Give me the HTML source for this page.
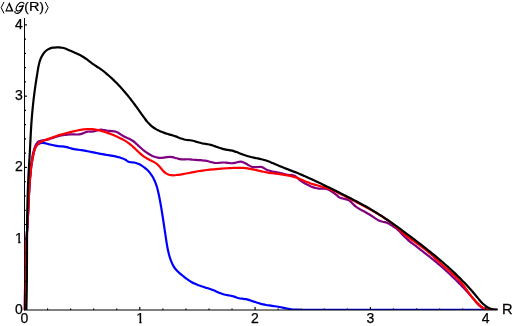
<!DOCTYPE html>
<html><head><meta charset="utf-8">
<title>Chart</title>
<style>
html,body{margin:0;padding:0;background:#fff;}
body{width:512px;height:326px;overflow:hidden;font-family:"Liberation Sans",sans-serif;}
svg{display:block;will-change:transform;}
text{font-family:"Liberation Sans",sans-serif;font-size:14px;fill:#000;stroke:#000;stroke-width:0.25px;}
.c{fill:none;stroke-width:2.2;stroke-linecap:butt;stroke-linejoin:round;}
</style></head><body>
<svg width="512" height="326" viewBox="0 0 512 326">
<rect width="512" height="326" fill="#fff"/>
<g>
<text x="24.40" y="323.00" text-anchor="middle">0</text>
<clipPath id="c1x"><path d="M130 310H150V320.9H141.6V326H139.3V320.9H130Z"/></clipPath>
<text x="140.10" y="323.00" text-anchor="middle" clip-path="url(#c1x)">1</text>
<text x="255.00" y="323.00" text-anchor="middle">2</text>
<text x="370.30" y="323.00" text-anchor="middle">3</text>
<text x="485.60" y="323.00" text-anchor="middle">4</text>
<text x="22.90" y="314.00" text-anchor="end">0</text>
<clipPath id="c1y"><path d="M8 228H24V240.9H20.5V246H18.2V240.9H8Z"/></clipPath>
<text x="22.90" y="242.72" text-anchor="end" clip-path="url(#c1y)">1</text>
<text x="22.90" y="171.44" text-anchor="end">2</text>
<text x="22.90" y="100.16" text-anchor="end">3</text>
<text x="22.90" y="28.88" text-anchor="end">4</text>
<text transform="translate(502.1 314.2) scale(1.05 1)">R</text>
</g>
<g id="title">
<text x="24.3" y="11.2" style="font-size:13.4px">(</text>
<text transform="translate(28.9 11.2) scale(1.08 0.975)" style="font-size:13.4px">R</text>
<text x="39.6" y="11.2" style="font-size:13.4px">)</text>
<path d="M9.35 2.0 L5.2 11.45 L13.5 11.45 Z M8.95 4.9 L11.35 10.35 L6.85 10.35 Z" fill="#000" fill-rule="evenodd" stroke="none"/>
<path d="M4.0 2.0 L1.15 7.6 L4.0 13.4" fill="none" stroke="#000" stroke-width="1"/>
<path d="M45.3 2.0 L48.15 7.6 L45.3 13.4" fill="none" stroke="#000" stroke-width="1"/>
<g fill="none" stroke="#000" stroke-width="1.15" stroke-linecap="round" stroke-linejoin="round">
<path d="M24.0 3.7 C23.5 2.5 22.3 2.1 21.3 2.3 C19 2.7 16.3 5.8 16.1 8.6 C16 10.4 17 11.1 18.4 11.0 C20.6 10.8 22.3 8.4 22.9 6.0"/>
<path d="M19.2 6.6 L23.5 5.9"/>
<path d="M22.9 6.0 C22.3 9.5 21 12.2 18.6 13.1 C17 13.7 15.2 13.3 14.85 12.2 C14.8 11.9 14.9 11.6 15.1 11.4"/>
</g>

</g>
<clipPath id="cp"><rect x="0" y="0" width="512" height="310"/></clipPath>
<g clip-path="url(#cp)">
<path class="c" stroke="#0000ff" d="M24.88 311.00C24.88 310.50 24.90 309.00 24.91 307.99C24.91 306.99 24.92 305.99 24.93 304.99C24.94 303.99 24.95 302.99 24.96 301.98C24.96 300.98 24.97 299.98 24.98 298.98C24.99 297.98 25.00 296.97 25.00 295.97C25.01 294.97 25.02 293.97 25.03 292.97C25.04 291.96 25.05 290.96 25.06 289.96C25.07 288.96 25.08 287.95 25.09 286.95C25.10 285.95 25.11 284.95 25.12 283.94C25.13 282.94 25.15 281.94 25.16 280.94C25.17 279.94 25.19 278.93 25.20 277.93C25.22 276.93 25.24 275.93 25.25 274.92C25.27 273.92 25.29 272.92 25.31 271.92C25.33 270.91 25.35 269.91 25.37 268.91C25.40 267.91 25.42 266.91 25.45 265.90C25.47 264.90 25.50 263.90 25.53 262.90C25.56 261.90 25.59 260.90 25.62 259.89C25.65 258.89 25.69 257.89 25.72 256.89C25.76 255.89 25.80 254.89 25.84 253.89C25.88 252.88 25.92 251.88 25.96 250.88C26.01 249.88 26.05 248.88 26.10 247.88C26.15 246.88 26.20 245.88 26.25 244.88C26.31 243.88 26.36 242.88 26.42 241.88C26.47 240.88 26.53 239.88 26.59 238.88C26.64 237.88 26.70 236.88 26.76 235.88C26.82 234.88 26.88 233.88 26.94 232.88C27.00 231.88 27.06 230.88 27.12 229.88C27.19 228.88 27.25 227.88 27.31 226.88C27.37 225.88 27.43 224.88 27.49 223.88C27.54 222.88 27.60 221.88 27.66 220.88C27.72 219.88 27.77 218.88 27.83 217.88C27.88 216.88 27.94 215.88 27.99 214.88C28.04 213.87 28.09 212.87 28.14 211.87C28.19 210.87 28.24 209.87 28.28 208.86C28.33 207.86 28.38 206.86 28.42 205.86C28.47 204.86 28.52 203.85 28.56 202.85C28.61 201.85 28.65 200.85 28.70 199.85C28.75 198.84 28.80 197.84 28.85 196.84C28.90 195.84 28.95 194.84 29.00 193.84C29.05 192.83 29.11 191.83 29.16 190.83C29.22 189.83 29.28 188.83 29.34 187.83C29.41 186.83 29.47 185.83 29.54 184.83C29.61 183.84 29.68 182.84 29.75 181.84C29.83 180.84 29.91 179.84 29.99 178.85C30.08 177.85 30.16 176.85 30.26 175.86C30.35 174.86 30.45 173.87 30.55 172.88C30.66 171.88 30.76 170.89 30.88 169.90C31.00 168.90 31.12 167.91 31.25 166.92C31.38 165.93 31.52 164.93 31.67 163.94C31.82 162.95 31.97 161.96 32.14 160.97C32.31 159.98 32.48 158.99 32.67 158.00C32.86 157.01 33.05 156.02 33.27 155.03C33.48 154.04 33.68 153.03 33.94 152.06C34.20 151.08 34.48 150.05 34.80 149.17C35.12 148.28 35.38 147.53 35.86 146.73C36.34 145.93 36.95 144.98 37.70 144.37C38.45 143.76 39.42 143.30 40.36 143.06C41.30 142.83 42.35 142.87 43.34 142.95C44.33 143.02 45.31 143.28 46.30 143.51C47.28 143.74 48.26 144.06 49.23 144.32C50.21 144.57 51.17 144.83 52.14 145.05C53.12 145.28 54.08 145.48 55.06 145.66C56.04 145.83 57.01 145.99 58.00 146.10C58.99 146.22 60.00 146.28 61.00 146.36C62.00 146.44 63.02 146.46 64.02 146.58C65.01 146.71 66.00 146.88 66.97 147.12C67.94 147.36 68.87 147.74 69.83 148.04C70.78 148.33 71.73 148.66 72.70 148.89C73.67 149.11 74.67 149.25 75.66 149.39C76.65 149.53 77.65 149.62 78.65 149.74C79.64 149.87 80.63 150.01 81.62 150.16C82.61 150.31 83.60 150.48 84.58 150.66C85.57 150.83 86.55 151.02 87.53 151.21C88.51 151.40 89.49 151.60 90.47 151.80C91.45 152.00 92.43 152.21 93.41 152.41C94.38 152.62 95.36 152.83 96.34 153.03C97.32 153.23 98.30 153.43 99.28 153.63C100.26 153.82 101.24 154.01 102.23 154.19C103.21 154.37 104.20 154.54 105.19 154.70C106.18 154.87 107.17 155.02 108.16 155.18C109.15 155.35 110.14 155.50 111.12 155.67C112.11 155.84 113.10 156.01 114.08 156.20C115.06 156.39 116.04 156.59 117.01 156.81C117.99 157.03 118.96 157.27 119.92 157.54C120.88 157.82 121.86 158.08 122.79 158.44C123.72 158.80 124.64 159.20 125.50 159.70C126.35 160.19 127.06 160.98 127.93 161.40C128.80 161.82 129.74 162.03 130.71 162.22C131.68 162.40 132.75 162.35 133.75 162.51C134.75 162.67 135.74 162.87 136.69 163.18C137.64 163.49 138.56 163.91 139.46 164.35C140.36 164.80 141.23 165.31 142.08 165.86C142.93 166.40 143.76 166.98 144.55 167.60C145.35 168.22 146.12 168.88 146.85 169.56C147.59 170.25 148.30 170.97 148.96 171.72C149.63 172.47 150.26 173.25 150.85 174.05C151.44 174.85 151.98 175.68 152.49 176.53C153.00 177.38 153.47 178.25 153.91 179.14C154.35 180.03 154.75 180.94 155.13 181.86C155.51 182.78 155.85 183.72 156.18 184.67C156.50 185.62 156.80 186.58 157.08 187.55C157.36 188.52 157.62 189.49 157.86 190.47C158.11 191.45 158.33 192.44 158.55 193.43C158.77 194.41 158.97 195.40 159.18 196.39C159.38 197.37 159.57 198.36 159.76 199.34C159.94 200.32 160.13 201.30 160.30 202.28C160.48 203.26 160.65 204.24 160.82 205.22C160.99 206.21 161.16 207.19 161.32 208.17C161.48 209.15 161.64 210.13 161.80 211.12C161.96 212.10 162.12 213.09 162.27 214.07C162.43 215.06 162.58 216.05 162.74 217.03C162.89 218.02 163.04 219.01 163.19 220.00C163.34 220.99 163.49 221.98 163.64 222.97C163.79 223.96 163.94 224.95 164.09 225.94C164.24 226.94 164.38 227.93 164.53 228.92C164.68 229.91 164.83 230.90 164.97 231.89C165.12 232.88 165.27 233.88 165.42 234.87C165.57 235.86 165.71 236.85 165.86 237.84C166.01 238.83 166.16 239.82 166.31 240.81C166.47 241.80 166.62 242.78 166.78 243.77C166.95 244.76 167.11 245.74 167.29 246.72C167.47 247.71 167.66 248.69 167.87 249.66C168.07 250.64 168.28 251.61 168.52 252.59C168.75 253.56 169.00 254.52 169.27 255.49C169.54 256.45 169.83 257.41 170.14 258.36C170.46 259.32 170.79 260.27 171.16 261.20C171.54 262.14 171.93 263.07 172.37 263.97C172.81 264.86 173.28 265.75 173.80 266.60C174.32 267.44 174.88 268.27 175.50 269.05C176.11 269.83 176.79 270.56 177.50 271.27C178.21 271.98 178.98 272.64 179.74 273.30C180.51 273.96 181.31 274.59 182.09 275.23C182.87 275.86 183.65 276.50 184.43 277.12C185.22 277.74 185.99 278.36 186.79 278.95C187.59 279.54 188.40 280.12 189.23 280.65C190.06 281.19 190.92 281.70 191.79 282.18C192.66 282.67 193.56 283.11 194.46 283.54C195.37 283.97 196.30 284.37 197.23 284.75C198.16 285.13 199.11 285.48 200.05 285.82C201.00 286.16 201.95 286.48 202.91 286.79C203.86 287.10 204.82 287.39 205.77 287.68C206.72 287.98 207.68 288.26 208.63 288.57C209.57 288.87 210.52 289.18 211.46 289.52C212.39 289.85 213.32 290.21 214.25 290.59C215.17 290.97 216.09 291.39 217.01 291.79C217.93 292.18 218.85 292.59 219.78 292.96C220.71 293.32 221.65 293.67 222.61 293.97C223.56 294.28 224.52 294.54 225.49 294.77C226.47 295.00 227.46 295.15 228.45 295.33C229.43 295.51 230.43 295.64 231.41 295.86C232.38 296.08 233.35 296.33 234.30 296.64C235.25 296.95 236.17 297.39 237.12 297.70C238.07 298.01 239.02 298.33 240.00 298.51C240.98 298.68 242.01 298.65 243.01 298.76C244.00 298.87 245.00 298.97 245.98 299.16C246.95 299.35 247.90 299.64 248.86 299.92C249.81 300.21 250.75 300.55 251.70 300.86C252.65 301.18 253.60 301.51 254.55 301.82C255.50 302.13 256.45 302.45 257.41 302.74C258.37 303.04 259.33 303.33 260.29 303.60C261.25 303.87 262.22 304.12 263.19 304.35C264.17 304.58 265.14 304.78 266.13 304.96C267.11 305.14 268.10 305.29 269.09 305.44C270.08 305.59 271.07 305.71 272.06 305.85C273.05 305.99 274.05 306.11 275.04 306.25C276.03 306.40 277.02 306.55 278.00 306.72C278.99 306.90 279.97 307.09 280.95 307.29C281.93 307.49 282.91 307.70 283.89 307.91C284.87 308.11 285.85 308.32 286.83 308.51C287.81 308.70 288.79 308.89 289.77 309.05C290.76 309.21 291.74 309.36 292.74 309.47C293.73 309.57 294.72 309.66 295.73 309.69C296.73 309.73 294.71 309.67 298.75 309.68C302.80 309.69 286.88 309.74 320.00 309.75C353.12 309.76 467.92 309.75 497.50 309.75"/>
<path class="c" stroke="#800080" d="M24.88 311.00C24.88 310.50 24.90 309.00 24.91 307.99C24.91 306.99 24.92 305.99 24.93 304.99C24.94 303.99 24.95 302.99 24.96 301.98C24.96 300.98 24.97 299.98 24.98 298.98C24.99 297.98 25.00 296.97 25.00 295.97C25.01 294.97 25.02 293.97 25.03 292.97C25.04 291.96 25.05 290.96 25.06 289.96C25.07 288.96 25.08 287.95 25.09 286.95C25.10 285.95 25.11 284.95 25.12 283.94C25.13 282.94 25.15 281.94 25.16 280.94C25.17 279.94 25.19 278.93 25.20 277.93C25.22 276.93 25.24 275.93 25.25 274.92C25.27 273.92 25.29 272.92 25.31 271.92C25.33 270.91 25.35 269.91 25.37 268.91C25.40 267.91 25.42 266.91 25.45 265.90C25.47 264.90 25.50 263.90 25.53 262.90C25.56 261.90 25.59 260.90 25.62 259.89C25.65 258.89 25.69 257.89 25.72 256.89C25.76 255.89 25.80 254.89 25.84 253.89C25.88 252.88 25.92 251.88 25.96 250.88C26.01 249.88 26.05 248.88 26.10 247.88C26.15 246.88 26.20 245.88 26.25 244.88C26.31 243.88 26.36 242.88 26.42 241.88C26.47 240.88 26.53 239.88 26.59 238.88C26.64 237.88 26.70 236.88 26.76 235.88C26.82 234.88 26.88 233.88 26.94 232.88C27.00 231.88 27.06 230.88 27.12 229.88C27.19 228.88 27.25 227.88 27.31 226.88C27.37 225.88 27.43 224.88 27.49 223.88C27.54 222.88 27.60 221.88 27.66 220.88C27.72 219.88 27.77 218.88 27.83 217.88C27.88 216.88 27.94 215.88 27.99 214.88C28.04 213.87 28.09 212.87 28.14 211.87C28.19 210.87 28.24 209.87 28.28 208.86C28.33 207.86 28.38 206.86 28.42 205.86C28.47 204.86 28.52 203.85 28.56 202.85C28.61 201.85 28.65 200.85 28.70 199.85C28.75 198.84 28.80 197.84 28.85 196.84C28.90 195.84 28.95 194.84 29.00 193.84C29.05 192.83 29.11 191.83 29.16 190.83C29.22 189.83 29.28 188.83 29.34 187.83C29.41 186.83 29.47 185.83 29.54 184.83C29.61 183.84 29.68 182.84 29.75 181.84C29.83 180.84 29.91 179.84 29.99 178.85C30.08 177.85 30.16 176.85 30.26 175.86C30.35 174.86 30.45 173.87 30.55 172.88C30.66 171.88 30.83 170.84 30.88 169.90C30.93 168.95 30.79 168.13 30.85 167.18C30.91 166.23 31.09 165.20 31.22 164.20C31.35 163.21 31.49 162.22 31.63 161.23C31.78 160.24 31.93 159.25 32.09 158.26C32.26 157.27 32.43 156.28 32.63 155.30C32.82 154.32 33.03 153.34 33.28 152.37C33.52 151.40 33.79 150.44 34.09 149.49C34.40 148.53 34.73 147.59 35.11 146.66C35.49 145.73 35.86 144.75 36.37 143.91C36.88 143.07 37.40 142.17 38.19 141.62C38.98 141.07 40.12 140.87 41.11 140.62C42.10 140.36 43.14 140.28 44.12 140.10C45.10 139.93 46.04 139.79 47.00 139.58C47.96 139.36 48.90 139.10 49.85 138.82C50.80 138.54 51.76 138.21 52.71 137.91C53.67 137.61 54.63 137.30 55.59 137.01C56.56 136.73 57.52 136.45 58.50 136.20C59.47 135.95 60.44 135.71 61.42 135.50C62.40 135.29 63.39 135.10 64.37 134.94C65.36 134.78 66.35 134.65 67.34 134.55C68.33 134.45 69.33 134.39 70.33 134.36C71.33 134.33 72.33 134.36 73.34 134.38C74.34 134.41 75.35 134.51 76.34 134.50C77.33 134.50 78.33 134.50 79.30 134.35C80.26 134.20 81.21 133.92 82.15 133.59C83.10 133.27 84.01 132.76 84.96 132.43C85.91 132.09 86.85 131.72 87.83 131.57C88.81 131.43 89.85 131.57 90.85 131.55C91.85 131.52 92.86 131.59 93.83 131.42C94.81 131.25 95.71 130.78 96.68 130.51C97.65 130.24 98.67 129.92 99.66 129.80C100.65 129.68 101.66 129.71 102.64 129.79C103.62 129.88 104.58 130.13 105.56 130.31C106.54 130.48 107.52 130.70 108.52 130.82C109.51 130.94 110.54 130.95 111.54 131.04C112.54 131.13 113.56 131.15 114.51 131.36C115.47 131.57 116.39 131.89 117.27 132.30C118.16 132.71 118.99 133.30 119.84 133.84C120.69 134.38 121.52 135.02 122.39 135.54C123.25 136.06 124.15 136.53 125.06 136.97C125.96 137.41 126.91 137.75 127.82 138.16C128.73 138.57 129.65 138.94 130.51 139.42C131.38 139.89 132.21 140.42 133.02 141.00C133.82 141.57 134.59 142.22 135.35 142.87C136.11 143.52 136.84 144.22 137.58 144.91C138.32 145.60 139.05 146.32 139.79 147.01C140.53 147.69 141.27 148.38 142.03 149.03C142.79 149.69 143.56 150.33 144.35 150.94C145.14 151.54 145.94 152.13 146.76 152.69C147.59 153.24 148.42 153.77 149.29 154.26C150.15 154.75 151.04 155.22 151.95 155.64C152.86 156.06 153.80 156.46 154.76 156.78C155.71 157.11 156.70 157.40 157.68 157.58C158.66 157.76 159.65 157.84 160.64 157.84C161.63 157.85 162.62 157.73 163.62 157.61C164.62 157.50 165.62 157.29 166.63 157.17C167.63 157.05 168.65 156.88 169.65 156.88C170.65 156.88 171.64 156.99 172.62 157.17C173.59 157.35 174.56 157.68 175.53 157.95C176.49 158.22 177.45 158.58 178.42 158.81C179.39 159.04 180.36 159.25 181.34 159.34C182.33 159.43 183.32 159.37 184.32 159.35C185.31 159.34 186.32 159.24 187.32 159.25C188.32 159.26 189.31 159.34 190.31 159.42C191.31 159.51 192.31 159.64 193.31 159.73C194.30 159.82 195.30 159.90 196.30 159.97C197.30 160.03 198.29 160.08 199.29 160.14C200.28 160.21 201.28 160.26 202.27 160.35C203.26 160.45 204.25 160.55 205.24 160.70C206.23 160.85 207.21 161.04 208.20 161.27C209.18 161.50 210.15 161.83 211.13 162.08C212.11 162.33 213.09 162.64 214.07 162.79C215.05 162.94 216.04 162.98 217.03 162.98C218.02 162.97 219.01 162.84 220.01 162.76C221.01 162.68 222.01 162.53 223.01 162.50C224.01 162.47 225.01 162.49 226.01 162.57C227.01 162.65 228.01 162.85 229.00 162.97C230.00 163.08 230.99 163.25 231.98 163.25C232.97 163.25 233.95 163.16 234.92 162.95C235.90 162.75 236.86 162.22 237.84 162.00C238.82 161.79 239.81 161.56 240.78 161.64C241.75 161.72 242.75 162.12 243.67 162.48C244.60 162.84 245.45 163.31 246.33 163.79C247.21 164.27 248.07 164.87 248.95 165.35C249.84 165.83 250.73 166.36 251.66 166.67C252.60 166.97 253.57 167.13 254.55 167.20C255.54 167.27 256.57 167.15 257.58 167.11C258.59 167.07 259.64 166.85 260.61 166.94C261.59 167.04 262.52 167.28 263.41 167.69C264.30 168.09 265.08 168.90 265.97 169.38C266.85 169.86 267.77 170.24 268.71 170.57C269.65 170.89 270.62 171.11 271.59 171.34C272.56 171.57 273.55 171.74 274.54 171.93C275.52 172.12 276.51 172.28 277.50 172.47C278.48 172.66 279.47 172.84 280.44 173.06C281.42 173.28 282.39 173.53 283.35 173.77C284.32 174.02 285.27 174.33 286.24 174.54C287.21 174.74 288.19 174.93 289.19 175.01C290.20 175.09 291.28 174.87 292.26 175.01C293.23 175.15 294.18 175.40 295.03 175.87C295.89 176.34 296.62 177.17 297.38 177.83C298.14 178.49 298.85 179.19 299.62 179.82C300.39 180.45 301.18 181.04 302.00 181.60C302.82 182.16 303.68 182.67 304.55 183.18C305.41 183.68 306.31 184.14 307.20 184.60C308.10 185.07 309.00 185.52 309.91 185.94C310.82 186.36 311.74 186.78 312.67 187.13C313.60 187.48 314.54 187.81 315.50 188.05C316.46 188.29 317.44 188.47 318.43 188.57C319.43 188.67 320.46 188.64 321.47 188.66C322.48 188.68 323.52 188.61 324.51 188.70C325.50 188.80 326.48 188.92 327.42 189.22C328.35 189.52 329.23 190.01 330.10 190.50C330.97 190.98 331.81 191.59 332.65 192.15C333.48 192.71 334.32 193.25 335.11 193.86C335.91 194.48 336.63 195.21 337.41 195.84C338.19 196.46 338.93 197.16 339.81 197.61C340.69 198.06 341.69 198.27 342.67 198.52C343.65 198.77 344.73 198.84 345.69 199.11C346.66 199.38 347.61 199.68 348.46 200.15C349.32 200.62 350.08 201.26 350.84 201.90C351.60 202.55 352.29 203.32 353.02 204.02C353.75 204.72 354.46 205.47 355.23 206.11C355.99 206.75 356.80 207.31 357.63 207.85C358.46 208.39 359.33 208.85 360.20 209.34C361.06 209.83 361.94 210.30 362.82 210.78C363.70 211.26 364.59 211.73 365.47 212.22C366.35 212.70 367.23 213.19 368.09 213.69C368.95 214.20 369.81 214.72 370.65 215.25C371.50 215.79 372.32 216.34 373.15 216.90C373.98 217.47 374.79 218.08 375.63 218.63C376.47 219.18 377.29 219.76 378.18 220.20C379.07 220.64 380.00 220.99 380.95 221.28C381.90 221.58 382.91 221.74 383.88 221.98C384.86 222.22 385.86 222.40 386.79 222.74C387.73 223.07 388.62 223.50 389.48 224.00C390.35 224.49 391.15 225.13 391.99 225.70C392.82 226.26 393.67 226.83 394.50 227.39C395.33 227.95 396.19 228.46 396.98 229.06C397.77 229.66 398.52 230.30 399.24 230.99C399.95 231.68 400.60 232.45 401.27 233.20C401.94 233.94 402.59 234.72 403.27 235.45C403.96 236.18 404.67 236.89 405.39 237.58C406.12 238.28 406.86 238.94 407.62 239.60C408.37 240.25 409.15 240.89 409.93 241.52C410.70 242.15 411.49 242.77 412.28 243.38C413.07 244.00 413.86 244.61 414.66 245.22C415.45 245.83 416.24 246.44 417.04 247.04C417.83 247.65 418.63 248.26 419.42 248.86C420.21 249.47 421.01 250.07 421.80 250.68C422.59 251.29 423.39 251.90 424.18 252.51C424.97 253.12 425.76 253.73 426.55 254.34C427.33 254.96 428.12 255.58 428.90 256.20C429.69 256.82 430.47 257.44 431.25 258.07C432.02 258.70 432.80 259.33 433.57 259.97C434.35 260.60 435.12 261.24 435.88 261.88C436.65 262.52 437.42 263.17 438.18 263.82C438.94 264.47 439.70 265.12 440.46 265.77C441.22 266.43 441.97 267.09 442.72 267.75C443.47 268.41 444.22 269.08 444.97 269.74C445.71 270.41 446.45 271.08 447.19 271.76C447.93 272.43 448.67 273.11 449.40 273.79C450.13 274.47 450.86 275.16 451.59 275.85C452.32 276.53 453.04 277.22 453.76 277.92C454.48 278.61 455.19 279.31 455.91 280.01C456.62 280.71 457.33 281.41 458.03 282.12C458.74 282.82 459.44 283.53 460.14 284.24C460.84 284.95 461.53 285.67 462.23 286.39C462.92 287.10 463.60 287.82 464.29 288.55C464.97 289.27 465.65 290.00 466.33 290.73C467.00 291.47 467.67 292.21 468.34 292.95C469.00 293.70 469.66 294.45 470.31 295.22C470.97 295.98 471.62 296.75 472.26 297.54C472.90 298.32 473.53 299.12 474.17 299.91C474.81 300.70 475.44 301.51 476.10 302.28C476.75 303.04 477.41 303.81 478.12 304.51C478.82 305.21 479.54 305.89 480.32 306.49C481.09 307.08 481.91 307.63 482.78 308.08C483.65 308.54 484.58 308.91 485.53 309.22C486.48 309.52 487.49 309.75 488.49 309.91C489.49 310.08 490.52 310.17 491.54 310.21C492.55 310.25 493.58 310.22 494.58 310.14C495.57 310.06 497.01 309.81 497.50 309.74"/>
<path class="c" stroke="#ff0000" d="M24.88 311.00C24.88 310.50 24.90 309.00 24.91 307.99C24.91 306.99 24.92 305.99 24.93 304.99C24.94 303.99 24.95 302.99 24.96 301.98C24.96 300.98 24.97 299.98 24.98 298.98C24.99 297.98 25.00 296.97 25.00 295.97C25.01 294.97 25.02 293.97 25.03 292.97C25.04 291.96 25.05 290.96 25.06 289.96C25.07 288.96 25.08 287.95 25.09 286.95C25.10 285.95 25.11 284.95 25.12 283.94C25.13 282.94 25.15 281.94 25.16 280.94C25.17 279.94 25.19 278.93 25.20 277.93C25.22 276.93 25.24 275.93 25.25 274.92C25.27 273.92 25.29 272.92 25.31 271.92C25.33 270.91 25.35 269.91 25.37 268.91C25.40 267.91 25.42 266.91 25.45 265.90C25.47 264.90 25.50 263.90 25.53 262.90C25.56 261.90 25.59 260.90 25.62 259.89C25.65 258.89 25.69 257.89 25.72 256.89C25.76 255.89 25.80 254.89 25.84 253.89C25.88 252.88 25.92 251.88 25.96 250.88C26.01 249.88 26.05 248.88 26.10 247.88C26.15 246.88 26.20 245.88 26.25 244.88C26.31 243.88 26.36 242.88 26.42 241.88C26.47 240.88 26.53 239.88 26.59 238.88C26.64 237.88 26.70 236.88 26.76 235.88C26.82 234.88 26.88 233.88 26.94 232.88C27.00 231.88 27.06 230.88 27.12 229.88C27.19 228.88 27.25 227.88 27.31 226.88C27.37 225.88 27.43 224.88 27.49 223.88C27.54 222.88 27.60 221.88 27.66 220.88C27.72 219.88 27.77 218.88 27.83 217.88C27.88 216.88 27.94 215.88 27.99 214.88C28.04 213.87 28.09 212.87 28.14 211.87C28.19 210.87 28.24 209.87 28.28 208.86C28.33 207.86 28.38 206.86 28.42 205.86C28.47 204.86 28.52 203.85 28.56 202.85C28.61 201.85 28.65 200.85 28.70 199.85C28.75 198.84 28.80 197.84 28.85 196.84C28.90 195.84 28.95 194.84 29.00 193.84C29.05 192.83 29.11 191.83 29.16 190.83C29.22 189.83 29.28 188.83 29.34 187.83C29.41 186.83 29.47 185.83 29.54 184.83C29.61 183.84 29.68 182.84 29.75 181.84C29.83 180.84 29.91 179.84 29.99 178.85C30.08 177.85 30.16 176.85 30.26 175.86C30.35 174.86 30.45 173.87 30.55 172.88C30.66 171.88 30.76 170.89 30.88 169.90C31.00 168.90 31.12 167.91 31.25 166.92C31.38 165.93 31.52 164.93 31.67 163.94C31.82 162.95 31.97 161.96 32.14 160.97C32.31 159.98 32.48 158.99 32.67 158.00C32.86 157.01 33.05 156.02 33.27 155.03C33.48 154.04 33.68 153.03 33.94 152.06C34.20 151.08 34.45 150.09 34.80 149.17C35.16 148.24 35.55 147.32 36.06 146.49C36.57 145.66 37.19 144.86 37.89 144.17C38.59 143.47 39.41 142.86 40.26 142.32C41.10 141.79 42.04 141.36 42.96 140.95C43.88 140.55 44.84 140.24 45.79 139.89C46.74 139.54 47.69 139.22 48.64 138.87C49.58 138.53 50.52 138.16 51.46 137.81C52.40 137.45 53.34 137.10 54.28 136.77C55.23 136.43 56.17 136.11 57.12 135.80C58.07 135.50 59.02 135.20 59.97 134.92C60.93 134.63 61.89 134.36 62.85 134.09C63.81 133.82 64.77 133.56 65.73 133.31C66.70 133.05 67.67 132.81 68.64 132.57C69.61 132.32 70.59 132.08 71.57 131.85C72.55 131.61 73.53 131.37 74.51 131.15C75.49 130.92 76.48 130.69 77.47 130.49C78.46 130.28 79.45 130.08 80.44 129.91C81.43 129.74 82.43 129.58 83.42 129.45C84.41 129.32 85.41 129.22 86.40 129.15C87.40 129.08 88.39 129.04 89.39 129.05C90.38 129.05 91.38 129.10 92.37 129.18C93.36 129.27 94.35 129.39 95.34 129.55C96.33 129.71 97.31 129.90 98.29 130.12C99.27 130.33 100.25 130.58 101.22 130.84C102.19 131.11 103.16 131.39 104.12 131.69C105.07 131.99 106.03 132.30 106.97 132.63C107.92 132.96 108.86 133.30 109.80 133.65C110.73 134.01 111.66 134.38 112.59 134.75C113.52 135.13 114.44 135.52 115.36 135.92C116.29 136.31 117.21 136.72 118.12 137.14C119.03 137.56 119.94 137.99 120.84 138.44C121.73 138.90 122.62 139.36 123.49 139.85C124.37 140.34 125.23 140.85 126.07 141.39C126.91 141.93 127.73 142.49 128.53 143.09C129.34 143.68 130.12 144.31 130.88 144.95C131.65 145.59 132.40 146.26 133.14 146.93C133.89 147.60 134.62 148.30 135.35 148.99C136.08 149.68 136.81 150.39 137.54 151.08C138.28 151.77 139.01 152.46 139.76 153.13C140.51 153.80 141.26 154.46 142.04 155.09C142.82 155.72 143.61 156.33 144.42 156.90C145.24 157.47 146.09 158.01 146.95 158.51C147.82 159.01 148.73 159.45 149.64 159.90C150.54 160.35 151.47 160.75 152.36 161.20C153.26 161.66 154.17 162.09 155.01 162.61C155.85 163.13 156.65 163.68 157.40 164.32C158.14 164.96 158.81 165.70 159.48 166.45C160.15 167.19 160.76 168.02 161.41 168.81C162.07 169.59 162.69 170.43 163.41 171.14C164.12 171.86 164.88 172.54 165.71 173.10C166.53 173.66 167.42 174.13 168.34 174.48C169.26 174.83 170.24 175.08 171.21 175.20C172.19 175.33 173.20 175.29 174.20 175.24C175.20 175.20 176.21 175.06 177.21 174.94C178.21 174.83 179.21 174.69 180.20 174.54C181.20 174.39 182.19 174.23 183.17 174.06C184.16 173.90 185.15 173.72 186.14 173.53C187.12 173.35 188.11 173.16 189.09 172.97C190.07 172.78 191.06 172.59 192.04 172.40C193.02 172.20 194.01 172.01 194.99 171.83C195.97 171.64 196.96 171.46 197.94 171.29C198.93 171.12 199.92 170.96 200.91 170.80C201.89 170.65 202.88 170.50 203.88 170.37C204.87 170.23 205.86 170.10 206.85 169.98C207.85 169.85 208.84 169.74 209.84 169.63C210.83 169.52 211.83 169.42 212.83 169.32C213.83 169.22 214.83 169.13 215.82 169.05C216.82 168.96 217.82 168.88 218.82 168.80C219.83 168.73 220.83 168.66 221.83 168.59C222.83 168.52 223.83 168.46 224.83 168.39C225.84 168.33 226.84 168.28 227.84 168.22C228.85 168.16 229.85 168.11 230.85 168.06C231.85 168.02 232.86 167.97 233.86 167.94C234.86 167.90 235.86 167.87 236.86 167.86C237.87 167.85 238.87 167.85 239.86 167.87C240.86 167.88 241.86 167.91 242.86 167.97C243.85 168.02 244.85 168.09 245.84 168.19C246.83 168.29 247.82 168.41 248.81 168.56C249.79 168.71 250.78 168.90 251.76 169.09C252.75 169.29 253.73 169.53 254.71 169.76C255.69 169.98 256.67 170.24 257.65 170.47C258.62 170.70 259.60 170.94 260.58 171.16C261.56 171.38 262.55 171.58 263.53 171.78C264.51 171.97 265.50 172.15 266.48 172.32C267.47 172.49 268.45 172.64 269.44 172.79C270.43 172.95 271.42 173.08 272.41 173.22C273.40 173.36 274.40 173.48 275.39 173.61C276.39 173.74 277.38 173.86 278.37 173.99C279.37 174.12 280.36 174.25 281.35 174.39C282.35 174.53 283.34 174.68 284.33 174.84C285.32 175.00 286.30 175.16 287.29 175.35C288.27 175.53 289.25 175.73 290.23 175.94C291.21 176.16 292.19 176.38 293.16 176.64C294.12 176.89 295.09 177.16 296.04 177.47C297.00 177.77 297.94 178.11 298.87 178.48C299.80 178.84 300.72 179.26 301.63 179.66C302.55 180.06 303.46 180.48 304.38 180.89C305.30 181.29 306.22 181.69 307.15 182.07C308.07 182.46 309.00 182.83 309.94 183.17C310.88 183.51 311.83 183.83 312.78 184.12C313.74 184.42 314.71 184.66 315.68 184.93C316.65 185.19 317.62 185.43 318.59 185.70C319.56 185.96 320.53 186.22 321.49 186.50C322.46 186.78 323.42 187.07 324.38 187.37C325.33 187.66 326.29 187.97 327.24 188.30C328.19 188.62 329.13 188.95 330.07 189.31C331.01 189.66 331.94 190.03 332.86 190.41C333.78 190.80 334.70 191.20 335.61 191.62C336.52 192.03 337.42 192.46 338.33 192.90C339.23 193.33 340.12 193.78 341.02 194.23C341.91 194.69 342.80 195.15 343.69 195.61C344.58 196.07 345.47 196.54 346.36 197.00C347.25 197.46 348.14 197.92 349.03 198.38C349.92 198.84 350.82 199.30 351.71 199.76C352.60 200.22 353.49 200.67 354.39 201.13C355.28 201.59 356.17 202.04 357.06 202.50C357.96 202.96 358.85 203.42 359.74 203.88C360.63 204.34 361.52 204.80 362.41 205.26C363.29 205.72 364.18 206.19 365.07 206.66C365.95 207.13 366.83 207.60 367.72 208.08C368.60 208.55 369.48 209.03 370.35 209.52C371.23 210.00 372.10 210.49 372.97 210.98C373.84 211.48 374.71 211.98 375.58 212.48C376.44 212.99 377.30 213.50 378.16 214.02C379.02 214.54 379.87 215.07 380.72 215.60C381.57 216.13 382.41 216.67 383.25 217.22C384.09 217.77 384.92 218.33 385.75 218.89C386.58 219.46 387.40 220.03 388.22 220.62C389.03 221.20 389.84 221.79 390.65 222.39C391.45 222.99 392.24 223.60 393.03 224.22C393.82 224.84 394.60 225.47 395.37 226.11C396.14 226.75 396.90 227.41 397.65 228.07C398.41 228.73 399.15 229.40 399.90 230.07C400.64 230.75 401.38 231.43 402.12 232.10C402.87 232.77 403.61 233.44 404.37 234.10C405.13 234.75 405.89 235.40 406.67 236.03C407.45 236.65 408.25 237.26 409.05 237.85C409.85 238.45 410.67 239.02 411.49 239.60C412.31 240.18 413.14 240.74 413.96 241.31C414.79 241.89 415.61 242.46 416.44 243.03C417.26 243.60 418.08 244.18 418.90 244.76C419.72 245.34 420.54 245.92 421.35 246.51C422.16 247.10 422.96 247.69 423.76 248.30C424.56 248.91 425.35 249.52 426.13 250.15C426.91 250.77 427.68 251.41 428.44 252.06C429.20 252.71 429.96 253.37 430.70 254.03C431.45 254.70 432.19 255.38 432.92 256.06C433.66 256.74 434.39 257.43 435.12 258.11C435.85 258.80 436.58 259.49 437.31 260.18C438.04 260.86 438.77 261.55 439.50 262.24C440.24 262.92 440.97 263.60 441.72 264.27C442.46 264.94 443.22 265.61 443.97 266.27C444.73 266.93 445.49 267.58 446.25 268.24C447.01 268.89 447.77 269.54 448.53 270.20C449.29 270.85 450.06 271.51 450.81 272.17C451.56 272.83 452.31 273.49 453.05 274.17C453.79 274.84 454.52 275.52 455.24 276.22C455.96 276.91 456.68 277.61 457.37 278.33C458.06 279.05 458.75 279.79 459.41 280.53C460.08 281.28 460.74 282.04 461.38 282.81C462.02 283.58 462.65 284.36 463.27 285.15C463.89 285.94 464.50 286.73 465.10 287.54C465.70 288.34 466.29 289.15 466.88 289.97C467.46 290.78 468.03 291.61 468.60 292.42C469.18 293.24 469.75 294.06 470.34 294.87C470.93 295.67 471.53 296.47 472.16 297.25C472.79 298.02 473.44 298.78 474.11 299.52C474.79 300.27 475.48 300.99 476.19 301.71C476.90 302.43 477.62 303.14 478.35 303.84C479.08 304.54 479.80 305.27 480.56 305.92C481.32 306.58 482.08 307.25 482.91 307.77C483.74 308.30 484.62 308.75 485.54 309.08C486.46 309.42 487.44 309.65 488.44 309.80C489.43 309.95 490.49 309.98 491.52 309.99C492.55 310.00 493.61 309.91 494.61 309.87C495.60 309.83 497.02 309.76 497.50 309.74"/>
<path class="c" stroke="#000000" d="M26.28 311.00C26.29 310.50 26.33 308.99 26.36 307.99C26.39 306.99 26.42 305.99 26.44 304.98C26.46 303.98 26.49 302.98 26.51 301.98C26.53 300.98 26.55 299.97 26.57 298.97C26.59 297.97 26.61 296.97 26.63 295.96C26.65 294.96 26.67 293.96 26.68 292.95C26.70 291.95 26.71 290.95 26.73 289.95C26.74 288.94 26.75 287.94 26.77 286.94C26.78 285.94 26.79 284.93 26.80 283.93C26.81 282.93 26.82 281.93 26.83 280.92C26.84 279.92 26.85 278.92 26.86 277.91C26.87 276.91 26.87 275.91 26.88 274.91C26.89 273.90 26.89 272.90 26.90 271.90C26.91 270.89 26.91 269.89 26.92 268.89C26.92 267.89 26.93 266.88 26.93 265.88C26.94 264.88 26.94 263.87 26.94 262.87C26.95 261.87 26.95 260.87 26.96 259.86C26.96 258.86 26.96 257.86 26.97 256.85C26.97 255.85 26.97 254.85 26.98 253.85C26.98 252.84 26.98 251.84 26.99 250.84C26.99 249.83 26.99 248.83 27.00 247.83C27.00 246.82 27.00 245.82 27.01 244.82C27.01 243.82 27.01 242.81 27.02 241.81C27.02 240.81 27.03 239.80 27.03 238.80C27.04 237.80 27.04 236.80 27.05 235.79C27.05 234.79 27.06 233.79 27.07 232.78C27.07 231.78 27.08 230.78 27.09 229.78C27.10 228.77 27.10 227.77 27.11 226.77C27.12 225.76 27.13 224.76 27.14 223.76C27.15 222.76 27.16 221.75 27.17 220.75C27.19 219.75 27.20 218.75 27.21 217.74C27.22 216.74 27.24 215.74 27.25 214.74C27.27 213.73 27.28 212.73 27.30 211.73C27.32 210.72 27.34 209.72 27.36 208.72C27.37 207.72 27.39 206.71 27.42 205.71C27.44 204.71 27.46 203.71 27.48 202.70C27.51 201.70 27.53 200.70 27.56 199.70C27.58 198.70 27.61 197.69 27.64 196.69C27.67 195.69 27.70 194.69 27.73 193.68C27.76 192.68 27.79 191.68 27.83 190.68C27.86 189.68 27.90 188.67 27.94 187.67C27.97 186.67 28.01 185.67 28.05 184.67C28.10 183.66 28.14 182.66 28.18 181.66C28.23 180.66 28.27 179.66 28.32 178.65C28.37 177.65 28.42 176.65 28.47 175.65C28.52 174.65 28.57 173.65 28.63 172.64C28.68 171.64 28.74 170.64 28.80 169.64C28.85 168.64 28.91 167.64 28.97 166.64C29.03 165.63 29.09 164.63 29.15 163.63C29.21 162.63 29.27 161.63 29.33 160.63C29.39 159.63 29.45 158.63 29.51 157.62C29.57 156.62 29.63 155.62 29.69 154.62C29.75 153.62 29.80 152.62 29.86 151.62C29.91 150.62 29.97 149.62 30.02 148.61C30.07 147.61 30.12 146.61 30.17 145.61C30.22 144.61 30.27 143.61 30.32 142.61C30.37 141.61 30.42 140.61 30.47 139.61C30.52 138.61 30.56 137.60 30.62 136.60C30.67 135.60 30.72 134.60 30.77 133.60C30.83 132.60 30.88 131.60 30.94 130.60C31.00 129.60 31.06 128.59 31.12 127.59C31.18 126.59 31.25 125.59 31.32 124.59C31.38 123.59 31.45 122.59 31.53 121.59C31.60 120.58 31.68 119.58 31.75 118.58C31.83 117.58 31.91 116.58 32.00 115.58C32.08 114.58 32.17 113.58 32.26 112.58C32.35 111.58 32.44 110.58 32.53 109.58C32.63 108.58 32.73 107.59 32.83 106.59C32.93 105.59 33.03 104.59 33.14 103.60C33.25 102.60 33.36 101.60 33.47 100.61C33.58 99.61 33.70 98.62 33.82 97.62C33.94 96.63 34.06 95.63 34.19 94.64C34.31 93.65 34.44 92.66 34.57 91.66C34.70 90.67 34.84 89.68 34.98 88.69C35.12 87.70 35.26 86.71 35.40 85.72C35.54 84.73 35.69 83.74 35.84 82.75C35.99 81.76 36.14 80.77 36.29 79.78C36.44 78.79 36.60 77.80 36.75 76.81C36.91 75.81 37.07 74.82 37.23 73.83C37.39 72.83 37.55 71.83 37.71 70.84C37.88 69.84 38.04 68.84 38.22 67.84C38.40 66.85 38.59 65.85 38.81 64.87C39.03 63.89 39.26 62.91 39.55 61.96C39.83 61.00 40.13 60.05 40.50 59.12C40.86 58.19 41.26 57.27 41.72 56.39C42.19 55.50 42.71 54.62 43.29 53.81C43.88 53.00 44.52 52.20 45.23 51.51C45.94 50.81 46.71 50.17 47.55 49.65C48.39 49.13 49.31 48.72 50.26 48.39C51.20 48.06 52.23 47.86 53.23 47.68C54.24 47.51 55.26 47.40 56.27 47.34C57.28 47.29 58.30 47.28 59.29 47.35C60.29 47.41 61.28 47.54 62.25 47.74C63.23 47.94 64.18 48.23 65.12 48.55C66.07 48.87 66.99 49.28 67.92 49.67C68.85 50.05 69.77 50.45 70.70 50.84C71.62 51.24 72.55 51.63 73.47 52.03C74.39 52.44 75.31 52.84 76.22 53.26C77.13 53.68 78.04 54.11 78.94 54.55C79.84 55.00 80.73 55.45 81.60 55.94C82.47 56.43 83.33 56.95 84.17 57.49C85.01 58.04 85.82 58.62 86.64 59.21C87.45 59.79 88.25 60.40 89.05 61.01C89.85 61.61 90.64 62.23 91.45 62.83C92.26 63.43 93.06 64.04 93.88 64.61C94.70 65.19 95.54 65.74 96.38 66.28C97.22 66.83 98.08 67.35 98.92 67.89C99.76 68.44 100.59 68.99 101.41 69.57C102.22 70.15 103.02 70.76 103.80 71.38C104.58 72.01 105.35 72.66 106.11 73.31C106.88 73.96 107.63 74.62 108.38 75.29C109.13 75.96 109.88 76.63 110.62 77.31C111.36 77.99 112.09 78.68 112.82 79.37C113.55 80.06 114.27 80.76 114.99 81.46C115.71 82.16 116.42 82.87 117.12 83.59C117.82 84.30 118.52 85.02 119.21 85.75C119.90 86.48 120.58 87.21 121.26 87.95C121.93 88.69 122.60 89.44 123.26 90.19C123.92 90.94 124.57 91.70 125.22 92.46C125.87 93.23 126.50 94.00 127.14 94.77C127.77 95.55 128.40 96.33 129.02 97.11C129.64 97.90 130.26 98.68 130.87 99.48C131.48 100.27 132.09 101.07 132.69 101.87C133.30 102.67 133.90 103.47 134.50 104.28C135.09 105.08 135.69 105.89 136.28 106.70C136.87 107.51 137.46 108.33 138.05 109.14C138.64 109.96 139.23 110.78 139.81 111.59C140.40 112.41 140.99 113.23 141.57 114.05C142.16 114.87 142.74 115.70 143.33 116.51C143.92 117.33 144.50 118.16 145.11 118.96C145.71 119.76 146.32 120.57 146.95 121.34C147.59 122.11 148.24 122.87 148.92 123.59C149.60 124.31 150.31 125.01 151.06 125.66C151.81 126.31 152.60 126.92 153.42 127.49C154.24 128.06 155.10 128.59 155.97 129.09C156.85 129.59 157.75 130.06 158.66 130.50C159.56 130.94 160.48 131.36 161.41 131.75C162.33 132.14 163.27 132.51 164.21 132.85C165.16 133.18 166.11 133.49 167.07 133.78C168.02 134.08 168.99 134.33 169.96 134.61C170.92 134.88 171.89 135.14 172.84 135.43C173.80 135.73 174.76 136.03 175.70 136.37C176.65 136.70 177.58 137.10 178.51 137.47C179.45 137.84 180.37 138.25 181.31 138.59C182.25 138.93 183.19 139.27 184.15 139.50C185.12 139.74 186.10 139.87 187.09 140.00C188.08 140.12 189.10 140.13 190.09 140.26C191.08 140.39 192.07 140.55 193.04 140.78C194.01 141.00 194.96 141.32 195.91 141.62C196.87 141.91 197.81 142.27 198.77 142.54C199.73 142.80 200.71 143.03 201.69 143.23C202.67 143.43 203.66 143.57 204.65 143.74C205.64 143.91 206.64 144.04 207.62 144.23C208.60 144.42 209.59 144.62 210.56 144.88C211.52 145.13 212.48 145.43 213.44 145.74C214.39 146.05 215.34 146.40 216.29 146.73C217.24 147.06 218.19 147.40 219.14 147.72C220.09 148.04 221.04 148.36 222.00 148.64C222.96 148.92 223.93 149.18 224.90 149.40C225.88 149.62 226.87 149.77 227.86 149.94C228.85 150.11 229.85 150.23 230.83 150.42C231.81 150.62 232.79 150.84 233.75 151.11C234.71 151.39 235.65 151.73 236.58 152.09C237.52 152.44 238.44 152.86 239.37 153.24C240.30 153.61 241.23 153.99 242.17 154.34C243.11 154.69 244.06 155.01 245.02 155.32C245.97 155.63 246.93 155.92 247.89 156.19C248.86 156.47 249.83 156.72 250.80 156.96C251.77 157.20 252.75 157.41 253.73 157.62C254.71 157.84 255.70 158.03 256.68 158.23C257.66 158.43 258.64 158.62 259.62 158.83C260.60 159.04 261.57 159.25 262.54 159.50C263.51 159.75 264.48 160.01 265.43 160.31C266.39 160.61 267.34 160.95 268.28 161.30C269.23 161.65 270.16 162.02 271.09 162.40C272.03 162.78 272.95 163.17 273.88 163.56C274.80 163.95 275.72 164.35 276.64 164.74C277.56 165.14 278.48 165.54 279.40 165.93C280.32 166.32 281.25 166.72 282.17 167.10C283.09 167.48 284.02 167.86 284.95 168.23C285.88 168.60 286.82 168.96 287.75 169.32C288.69 169.67 289.62 170.03 290.56 170.38C291.50 170.74 292.43 171.09 293.37 171.46C294.30 171.82 295.24 172.18 296.17 172.56C297.10 172.93 298.03 173.31 298.95 173.70C299.88 174.08 300.80 174.47 301.73 174.87C302.65 175.26 303.57 175.67 304.49 176.07C305.41 176.47 306.32 176.88 307.24 177.29C308.15 177.70 309.07 178.12 309.98 178.53C310.90 178.95 311.81 179.37 312.72 179.79C313.63 180.21 314.54 180.63 315.45 181.05C316.36 181.48 317.26 181.90 318.17 182.33C319.08 182.75 319.99 183.18 320.89 183.61C321.80 184.04 322.70 184.47 323.60 184.91C324.51 185.34 325.41 185.78 326.31 186.21C327.21 186.65 328.12 187.09 329.02 187.53C329.92 187.96 330.82 188.41 331.72 188.85C332.62 189.29 333.52 189.73 334.41 190.18C335.31 190.62 336.21 191.07 337.11 191.51C338.00 191.96 338.90 192.41 339.80 192.86C340.69 193.31 341.59 193.76 342.49 194.21C343.38 194.66 344.28 195.11 345.17 195.57C346.07 196.02 346.96 196.48 347.85 196.93C348.75 197.39 349.64 197.85 350.53 198.31C351.43 198.76 352.32 199.22 353.21 199.69C354.10 200.15 354.99 200.62 355.88 201.08C356.77 201.55 357.65 202.02 358.54 202.49C359.42 202.97 360.31 203.44 361.19 203.92C362.07 204.40 362.95 204.88 363.83 205.37C364.71 205.85 365.58 206.34 366.46 206.83C367.33 207.33 368.20 207.82 369.07 208.32C369.94 208.82 370.81 209.33 371.67 209.84C372.53 210.35 373.39 210.86 374.25 211.38C375.11 211.90 375.96 212.42 376.81 212.95C377.66 213.48 378.51 214.02 379.35 214.56C380.20 215.09 381.04 215.64 381.88 216.18C382.72 216.73 383.56 217.28 384.39 217.84C385.22 218.39 386.06 218.95 386.89 219.52C387.71 220.08 388.54 220.64 389.37 221.21C390.19 221.78 391.01 222.36 391.83 222.93C392.65 223.51 393.47 224.09 394.29 224.67C395.11 225.25 395.92 225.84 396.74 226.42C397.55 227.01 398.36 227.60 399.17 228.19C399.98 228.78 400.79 229.37 401.60 229.97C402.41 230.56 403.21 231.16 404.02 231.76C404.82 232.36 405.63 232.96 406.43 233.56C407.24 234.16 408.04 234.76 408.84 235.36C409.64 235.97 410.44 236.57 411.25 237.17C412.05 237.78 412.85 238.38 413.65 238.99C414.45 239.60 415.24 240.20 416.04 240.81C416.84 241.42 417.64 242.03 418.43 242.64C419.23 243.25 420.02 243.86 420.82 244.47C421.61 245.09 422.40 245.70 423.19 246.32C423.98 246.93 424.77 247.55 425.56 248.17C426.35 248.79 427.14 249.41 427.92 250.03C428.71 250.66 429.49 251.28 430.27 251.91C431.06 252.54 431.84 253.17 432.61 253.80C433.39 254.43 434.17 255.06 434.94 255.70C435.72 256.34 436.49 256.97 437.26 257.62C438.03 258.26 438.80 258.90 439.56 259.55C440.33 260.20 441.09 260.84 441.86 261.50C442.62 262.15 443.38 262.81 444.13 263.46C444.89 264.12 445.64 264.78 446.39 265.45C447.14 266.11 447.89 266.78 448.64 267.45C449.38 268.13 450.12 268.80 450.86 269.48C451.60 270.16 452.34 270.84 453.07 271.52C453.80 272.21 454.53 272.90 455.25 273.59C455.98 274.28 456.70 274.98 457.42 275.68C458.14 276.38 458.85 277.08 459.56 277.79C460.27 278.49 460.98 279.20 461.68 279.92C462.39 280.63 463.08 281.35 463.78 282.08C464.47 282.80 465.16 283.53 465.85 284.26C466.54 284.99 467.22 285.73 467.89 286.47C468.57 287.21 469.24 287.95 469.91 288.70C470.58 289.45 471.24 290.20 471.90 290.96C472.55 291.72 473.21 292.48 473.85 293.25C474.50 294.02 475.14 294.79 475.78 295.57C476.42 296.34 477.05 297.13 477.70 297.90C478.34 298.67 478.98 299.44 479.64 300.19C480.31 300.94 480.97 301.69 481.67 302.40C482.37 303.12 483.08 303.83 483.83 304.50C484.58 305.16 485.35 305.83 486.16 306.40C486.98 306.98 487.83 307.53 488.73 307.96C489.62 308.40 490.57 308.76 491.53 309.04C492.49 309.32 493.49 309.51 494.49 309.63C495.48 309.74 497.00 309.72 497.50 309.74"/>
</g>
<g stroke="#000" fill="none">
<line x1="24.5" y1="18.0" x2="24.5" y2="310.5" stroke-width="1"/>
<line x1="24.0" y1="310.0" x2="497.5" y2="310.0" stroke-width="1.12"/>
</g>
<g stroke="#000" stroke-width="1.15" fill="none">
<line x1="47.56" y1="310.00" x2="47.56" y2="308.40"/>
<line x1="70.62" y1="310.00" x2="70.62" y2="308.40"/>
<line x1="93.68" y1="310.00" x2="93.68" y2="308.40"/>
<line x1="116.74" y1="310.00" x2="116.74" y2="308.40"/>
<line x1="139.80" y1="310.00" x2="139.80" y2="307.10"/>
<line x1="162.86" y1="310.00" x2="162.86" y2="308.40"/>
<line x1="185.92" y1="310.00" x2="185.92" y2="308.40"/>
<line x1="208.98" y1="310.00" x2="208.98" y2="308.40"/>
<line x1="232.04" y1="310.00" x2="232.04" y2="308.40"/>
<line x1="255.10" y1="310.00" x2="255.10" y2="307.10"/>
<line x1="278.16" y1="310.00" x2="278.16" y2="308.40"/>
<line x1="301.22" y1="310.00" x2="301.22" y2="308.40"/>
<line x1="324.28" y1="310.00" x2="324.28" y2="308.40"/>
<line x1="347.34" y1="310.00" x2="347.34" y2="308.40"/>
<line x1="370.40" y1="310.00" x2="370.40" y2="307.10"/>
<line x1="393.46" y1="310.00" x2="393.46" y2="308.40"/>
<line x1="416.52" y1="310.00" x2="416.52" y2="308.40"/>
<line x1="439.58" y1="310.00" x2="439.58" y2="308.40"/>
<line x1="462.64" y1="310.00" x2="462.64" y2="308.40"/>
<line x1="485.70" y1="310.00" x2="485.70" y2="307.10"/>
<line x1="24.50" y1="295.74" x2="26.00" y2="295.74"/>
<line x1="24.50" y1="281.49" x2="26.00" y2="281.49"/>
<line x1="24.50" y1="267.23" x2="26.00" y2="267.23"/>
<line x1="24.50" y1="252.98" x2="26.00" y2="252.98"/>
<line x1="24.50" y1="238.72" x2="27.00" y2="238.72"/>
<line x1="24.50" y1="224.46" x2="26.00" y2="224.46"/>
<line x1="24.50" y1="210.21" x2="26.00" y2="210.21"/>
<line x1="24.50" y1="195.95" x2="26.00" y2="195.95"/>
<line x1="24.50" y1="181.70" x2="26.00" y2="181.70"/>
<line x1="24.50" y1="167.44" x2="27.00" y2="167.44"/>
<line x1="24.50" y1="153.18" x2="26.00" y2="153.18"/>
<line x1="24.50" y1="138.93" x2="26.00" y2="138.93"/>
<line x1="24.50" y1="124.67" x2="26.00" y2="124.67"/>
<line x1="24.50" y1="110.42" x2="26.00" y2="110.42"/>
<line x1="24.50" y1="96.16" x2="27.00" y2="96.16"/>
<line x1="24.50" y1="81.90" x2="26.00" y2="81.90"/>
<line x1="24.50" y1="67.65" x2="26.00" y2="67.65"/>
<line x1="24.50" y1="53.39" x2="26.00" y2="53.39"/>
<line x1="24.50" y1="39.14" x2="26.00" y2="39.14"/>
<line x1="24.50" y1="24.88" x2="27.00" y2="24.88"/>
</g>
</svg>
</body></html>
